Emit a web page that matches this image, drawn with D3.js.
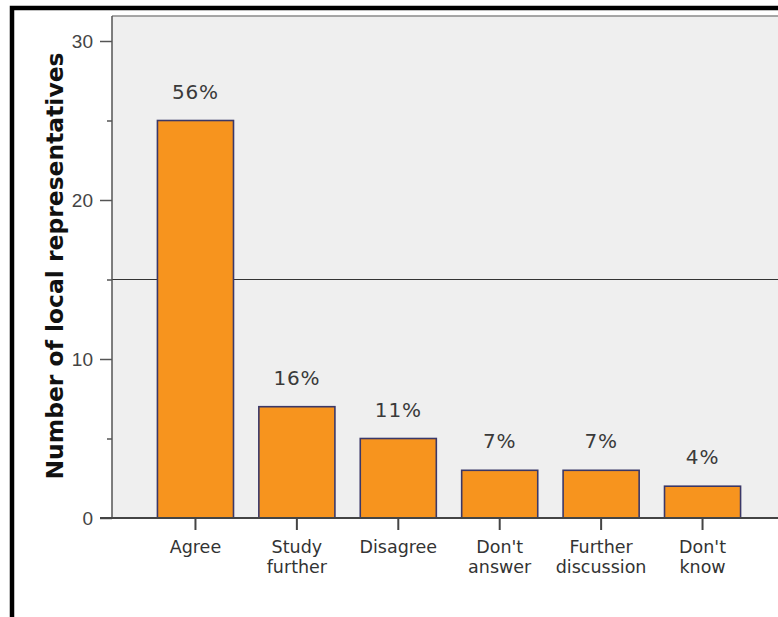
<!DOCTYPE html>
<html><head><meta charset="utf-8">
<script src="https://cdn.jsdelivr.net/npm/d3@7"></script>
<style>body{margin:0;background:#fff}svg{display:block}</style>
</head><body>
<svg id="c" width="778" height="617"></svg>
<script>
const categories = [["Agree"],["Study","further"],["Disagree"],["Don't","answer"],["Further","discussion"],["Don't","know"]];
const counts = [25, 7, 5, 3, 3, 2];
const percentLabels = ["56%","16%","11%","7%","7%","4%"];
const majorTicks = [0, 10, 20, 30];
const minorTicks = [5, 15, 25];
const referenceValue = 15;
const yTitle = "Number of local representatives";

(function(){
const svg = d3.select("#c");
const pLeft = 112, pTop = 16, pBottom = 518, rightEdge = 786;
const font = "DejaVu Sans, Verdana, sans-serif";

// frame
svg.append("rect").attr("x",12).attr("y",8).attr("width",800).attr("height",640)
  .attr("fill","none").attr("stroke","#000").attr("stroke-width",4.5);

// plot background
svg.append("rect").attr("x",pLeft).attr("y",pTop).attr("width",778-pLeft).attr("height",pBottom-pTop)
  .attr("fill","#efefef");
svg.append("line").attr("x1",pLeft).attr("x2",778).attr("y1",pTop).attr("y2",pTop)
  .attr("stroke","#8a8a8a").attr("stroke-width",1.5);

const x = d3.scaleBand().domain(d3.range(categories.length)).range([pLeft, rightEdge])
  .paddingInner(0.25).paddingOuter(0.448);
const y = d3.scaleLinear().domain([0, 31.5]).range([pBottom, pBottom - 31.5*15.9]);

// reference line
svg.append("line").attr("x1",pLeft).attr("x2",778).attr("y1",y(referenceValue)).attr("y2",y(referenceValue))
  .attr("stroke","#333").attr("stroke-width",1.2);

// bars
svg.selectAll("rect.bar").data(counts).join("rect").attr("class","bar")
  .attr("x",(d,i)=>x(i)).attr("width",x.bandwidth())
  .attr("y",d=>y(d)).attr("height",d=>y(0)-y(d))
  .attr("fill","#f7941e").attr("stroke","#3b3868").attr("stroke-width",1.6);

// percent labels
svg.selectAll("text.pct").data(percentLabels).join("text").attr("class","pct")
  .attr("x",(d,i)=>x(i)+x.bandwidth()/2).attr("y",(d,i)=>y(counts[i])-22)
  .attr("text-anchor","middle").attr("font-family",font)
  .attr("font-size",20).attr("letter-spacing",0.8).attr("fill","#3a3a3a").text(d=>d);

// y axis
const yAxis = d3.axisLeft(y).tickValues(majorTicks).tickSize(12).tickPadding(7);
const ga = svg.append("g").attr("transform",`translate(${pLeft},0)`).call(yAxis);
ga.select(".domain").remove();
ga.selectAll("line").attr("stroke","#555").attr("stroke-width",1.5);
ga.selectAll("text").attr("font-family","Liberation Sans, Arial, sans-serif").attr("font-size",19).attr("fill","#444");
const gm = svg.append("g").attr("transform",`translate(${pLeft},0)`).call(d3.axisLeft(y).tickValues(minorTicks).tickSize(5).tickFormat(""));
gm.select(".domain").remove();
gm.selectAll("line").attr("stroke","#555").attr("stroke-width",1.5);
svg.append("line").attr("x1",pLeft).attr("x2",pLeft).attr("y1",pTop).attr("y2",pBottom)
  .attr("stroke","#555").attr("stroke-width",1.5);

// x axis
svg.append("line").attr("x1",pLeft-12).attr("x2",778).attr("y1",pBottom).attr("y2",pBottom)
  .attr("stroke","#444").attr("stroke-width",2);
const gx = svg.append("g").attr("transform",`translate(0,${pBottom})`);
gx.selectAll("line").data(categories).join("line")
  .attr("x1",(d,i)=>x(i)+x.bandwidth()/2).attr("x2",(d,i)=>x(i)+x.bandwidth()/2)
  .attr("y1",0).attr("y2",12).attr("stroke","#444").attr("stroke-width",2);
const lbl = gx.selectAll("text").data(categories).join("text")
  .attr("text-anchor","middle").attr("font-family",font)
  .attr("font-size",17.5).attr("fill","#333");
lbl.each(function(d,i){
  const t = d3.select(this);
  d.forEach((s,j)=>t.append("tspan").attr("x",x(i)+x.bandwidth()/2).attr("y",35+j*20).text(s));
});

// y title
svg.append("text").attr("transform","translate(63,266) rotate(-90)")
  .attr("text-anchor","middle").attr("font-family",font)
  .attr("font-weight","bold").attr("font-size",23).attr("fill","#111")
  .attr("textLength",427).attr("lengthAdjust","spacingAndGlyphs").text(yTitle);
})();
</script>
</body></html>
